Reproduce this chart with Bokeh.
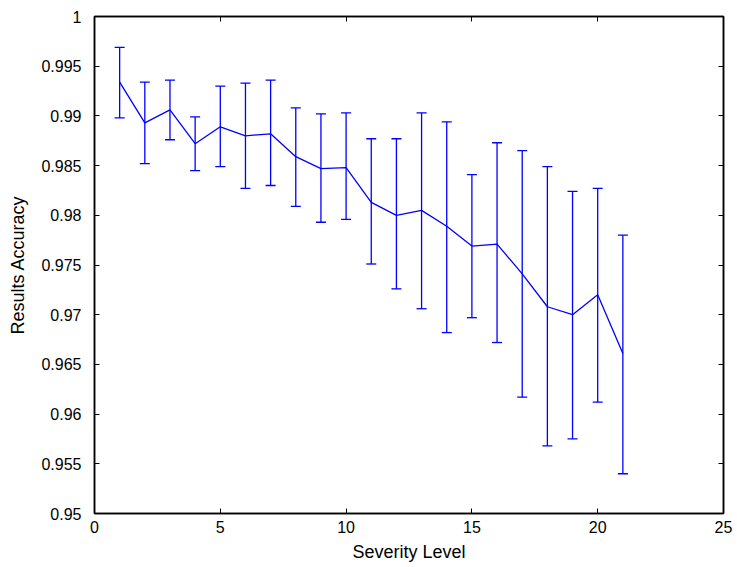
from bokeh.plotting import figure
from bokeh.models import ColumnDataSource, Whisker, LinearAxis, FixedTicker, Range1d
from bokeh.embed import file_html
from bokeh.resources import INLINE

severity = list(range(1, 22))
accuracy = [0.9934, 0.9893, 0.9906, 0.9872, 0.9889, 0.9880, 0.9882, 0.9859, 0.9847, 0.9848,
            0.9813, 0.9800, 0.9805, 0.9789, 0.9769, 0.9771, 0.9741, 0.9708, 0.9700, 0.9720, 0.9661]
upper = [0.9969, 0.9934, 0.9936, 0.9899, 0.9930, 0.9933, 0.9936, 0.9908, 0.9902, 0.9903,
         0.9877, 0.9877, 0.9903, 0.9894, 0.9841, 0.9873, 0.9865, 0.9849, 0.9824, 0.9827, 0.9780]
lower = [0.9898, 0.9852, 0.9876, 0.9845, 0.9849, 0.9827, 0.9830, 0.9809, 0.9793, 0.9796,
         0.9751, 0.9726, 0.9706, 0.9682, 0.9697, 0.9672, 0.9617, 0.9568, 0.9575, 0.9612, 0.9540]
x_ticks = [0, 5, 10, 15, 20, 25]
y_ticks = [0.95, 0.955, 0.96, 0.965, 0.97, 0.975, 0.98, 0.985, 0.99, 0.995, 1.0]
y_tick_labels = {0.95: "0.95", 0.955: "0.955", 0.96: "0.96", 0.965: "0.965", 0.97: "0.97",
                 0.975: "0.975", 0.98: "0.98", 0.985: "0.985", 0.99: "0.99", 0.995: "0.995", 1.0: "1"}

src = ColumnDataSource(dict(x=severity, y=accuracy, upper=upper, lower=lower))

FONT = "Liberation Sans"
BLUE = "#0000ff"

p = figure(frame_width=629, frame_height=497, output_backend="svg", toolbar_location=None,
           x_range=Range1d(0, 25), y_range=Range1d(0.95, 1.0),
           min_border_left=94, min_border_right=14, min_border_top=16, min_border_bottom=54)
p.background_fill_color = "white"
p.border_fill_color = "white"
p.outline_line_color = "black"
p.outline_line_width = 1.5
p.xgrid.visible = False
p.ygrid.visible = False

w = Whisker(base="x", upper="upper", lower="lower", source=src, line_color=BLUE, line_width=1.3)
w.upper_head.size = 10
w.lower_head.size = 10
w.upper_head.line_color = BLUE
w.lower_head.line_color = BLUE
w.upper_head.line_width = 1.3
w.lower_head.line_width = 1.3
p.add_layout(w)
p.line("x", "y", source=src, line_color=BLUE, line_width=1.3)

def style(ax, labels=True):
    ax.major_tick_in = 5
    ax.major_tick_out = 0
    ax.minor_tick_in = 0
    ax.minor_tick_out = 0
    ax.axis_line_color = "black"
    ax.axis_line_width = 1.5
    ax.major_tick_line_color = "black"
    ax.major_label_text_font = FONT
    ax.major_label_text_font_size = "16px"
    ax.major_label_text_color = "black" if labels else None
    ax.axis_label_text_font = FONT
    ax.axis_label_text_font_size = "18px"
    ax.axis_label_text_font_style = "normal"
    ax.axis_label_text_color = "black"

p.xaxis.ticker = FixedTicker(ticks=x_ticks)
p.yaxis.ticker = FixedTicker(ticks=y_ticks)
p.yaxis.major_label_overrides = y_tick_labels
p.xaxis.axis_label = "Severity Level"
p.yaxis.axis_label = "Results Accuracy"
style(p.xaxis[0])
style(p.yaxis[0])
p.xaxis.major_label_standoff = 7
p.yaxis.major_label_standoff = 13
p.xaxis.axis_label_standoff = 6
p.yaxis.axis_label_standoff = 10

top = LinearAxis(ticker=FixedTicker(ticks=x_ticks))
style(top, labels=False)
top.major_label_text_font_size = "0px"
p.add_layout(top, "above")
right = LinearAxis(ticker=FixedTicker(ticks=y_ticks))
style(right, labels=False)
right.major_label_text_font_size = "0px"
p.add_layout(right, "right")

open("out.html", "w").write(file_html(p, INLINE))
